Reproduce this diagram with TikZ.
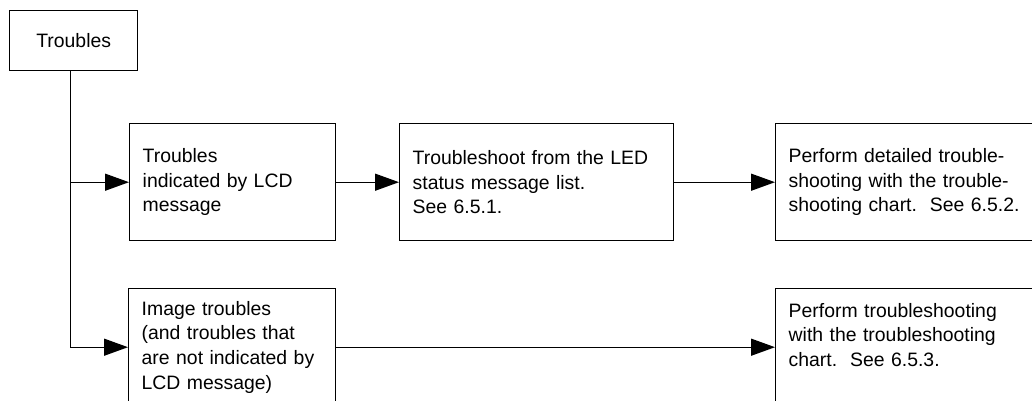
\documentclass[tikz,border=0pt]{standalone}
\usepackage{fontspec}
\setmainfont{Liberation Sans}
\usetikzlibrary{arrows.meta, positioning}

\begin{document}
\begin{tikzpicture}[x=0.5pt, y=-0.5pt, font=\fontsize{9.7}{12.3}\selectfont, line width=0.7pt,
        box/.style={rectangle, draw, anchor=north west, align=left, inner xsep=6.5pt,
                    minimum height=58.5pt},
        flow/.style={-{Triangle[length=12pt, width=8.5pt]}}
    ]
        \useasboundingbox (0,0) rectangle (1032,401);
        \clip (0,0) rectangle (1032,401);
        \node[box, align=center, text width=51pt, minimum height=30pt] (trb) at (9,10) {Troubles};
        \node[box, text width=90pt]  (lcd)   at (129,123) {Troubles\\ indicated by LCD\\ message};
        \node[box, text width=124pt] (led)   at (399,123) {Troubleshoot from the LED\\ status message list.\\ See 6.5.1.};
        \node[box, text width=124pt] (det)   at (775,123) {Perform detailed trouble-\\ shooting with the trouble-\\ shooting chart.\ \ See 6.5.2.};
        \node[box, text width=90.5pt] (img)  at (128,288) {Image troubles\\ (and troubles that\\ are not indicated by\\ LCD message)};
        \node[box, text width=124pt] (chart) at (775,288) {Perform troubleshooting\\ with the troubleshooting\\ chart.\ \ See 6.5.3.\\ \mbox{}};
        % branch line from the top box
        \coordinate (spine) at ([xshift=-1.5pt]trb.south);
        \draw[flow] (spine) |- (img.west);
        \draw[flow] (spine |- lcd.west) -- (lcd.west);
        \draw[flow] (lcd) -- (led);
        \draw[flow] (led) -- (det);
        \draw[flow] (img) -- (chart);
    \end{tikzpicture}
\end{document}
